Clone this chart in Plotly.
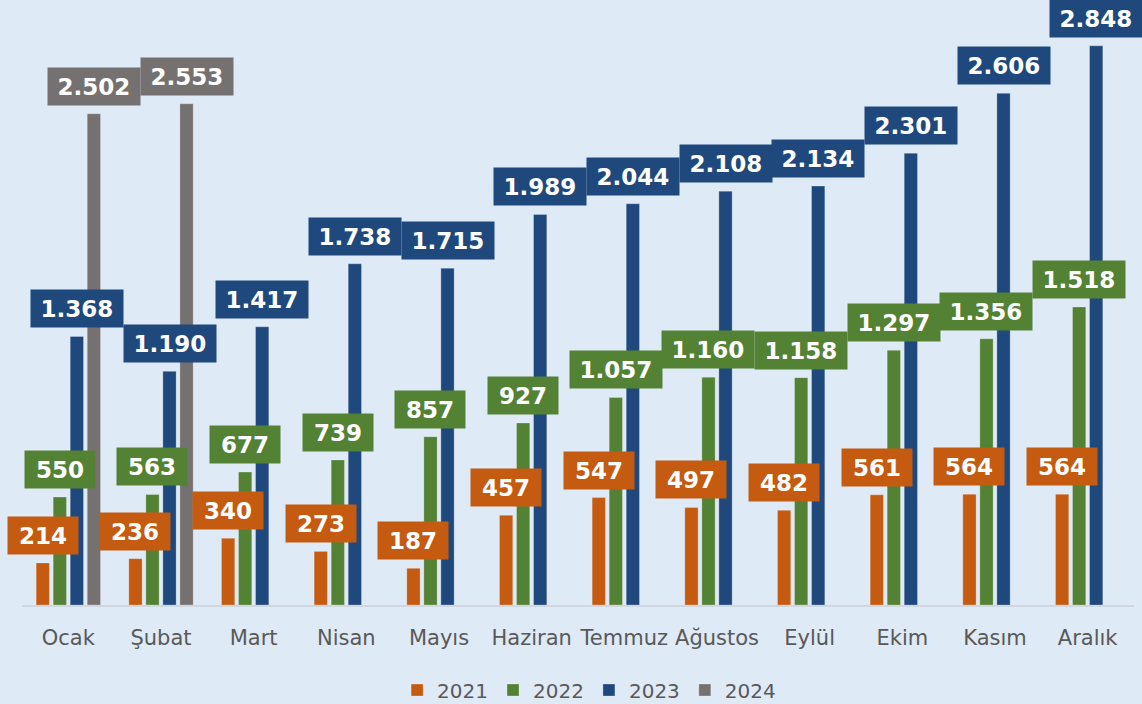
import plotly.graph_objects as go

months = ["Ocak", "Şubat", "Mart", "Nisan", "Mayıs", "Haziran", "Temmuz",
          "Ağustos", "Eylül", "Ekim", "Kasım", "Aralık"]
years = ["2021", "2022", "2023", "2024"]
v2021 = [214, 236, 340, 273, 187, 457, 547, 497, 482, 561, 564, 564]
v2022 = [550, 563, 677, 739, 857, 927, 1057, 1160, 1158, 1297, 1356, 1518]
v2023 = [1368, 1190, 1417, 1738, 1715, 1989, 2044, 2108, 2134, 2301, 2606, 2848]
v2024 = [2502, 2553, None, None, None, None, None, None, None, None, None, None]
series = [v2021, v2022, v2023, v2024]
colors = ["#C55A11", "#548235", "#1F497D", "#767171"]

BARGAP = 0.265
BARGROUPGAP = 0.22

def fmt(v):
    return f"{v:,}".replace(",", ".")

fig = go.Figure()
for name, vals, col in zip(years, series, colors):
    fig.add_trace(go.Bar(
        x=months, y=vals, name=name,
        marker=dict(color=col, line=dict(color="rgba(255,255,255,0.25)", width=1)),
    ))

annotations = []
n = len(series)
slot = (1 - BARGAP) / n
for j, (vals, col) in enumerate(zip(series, colors)):
    for i, v in enumerate(vals):
        if v is None:
            continue
        txt = fmt(v)
        w = 70 if len(txt) <= 3 else 92
        annotations.append(dict(
            x=i + (j - (n - 1) / 2) * slot, y=v, xref="x", yref="y",
            text="<b>" + txt + "</b>", showarrow=False,
            xanchor="center", yanchor="bottom", yshift=8,
            bgcolor=col, borderpad=0, width=w, height=37,
            align="center", valign="middle",
            font=dict(family="DejaVu Sans", size=23, color="white"),
        ))

fig.update_layout(
    width=1142, height=704,
    paper_bgcolor="#DEEAF6", plot_bgcolor="#DEEAF6",
    margin=dict(l=22, r=8, t=16, b=99, autoexpand=False),
    barmode="group", bargap=BARGAP, bargroupgap=BARGROUPGAP,
    annotations=annotations,
    showlegend=True,
    legend=dict(orientation="h", x=0.51, xanchor="center",
                yref="container", y=14 / 704, yanchor="middle",
                font=dict(family="DejaVu Sans", size=20, color="#595959"),
                bgcolor="rgba(0,0,0,0)", traceorder="normal"),
    font=dict(family="DejaVu Sans", color="#595959"),
)
fig.update_xaxes(type="category", range=[-0.5, 11.5], autorange=False,
                 tickangle=0, showgrid=False, automargin=False,
                 showline=True, linecolor="#D0D7E0", linewidth=2,
                 ticks="", ticklabelstandoff=13,
                 tickfont=dict(family="DejaVu Sans", size=21, color="#595959"))
fig.update_yaxes(range=[0, 3000], visible=False, showgrid=False, zeroline=False)

fig.write_html(
    "out.html",
    config={"displayModeBar": False},
    post_script="document.documentElement.style.margin='0';"
                "document.body.style.margin='0';document.body.style.overflow='hidden';"
                "document.body.style.background='#DEEAF6';",
)
